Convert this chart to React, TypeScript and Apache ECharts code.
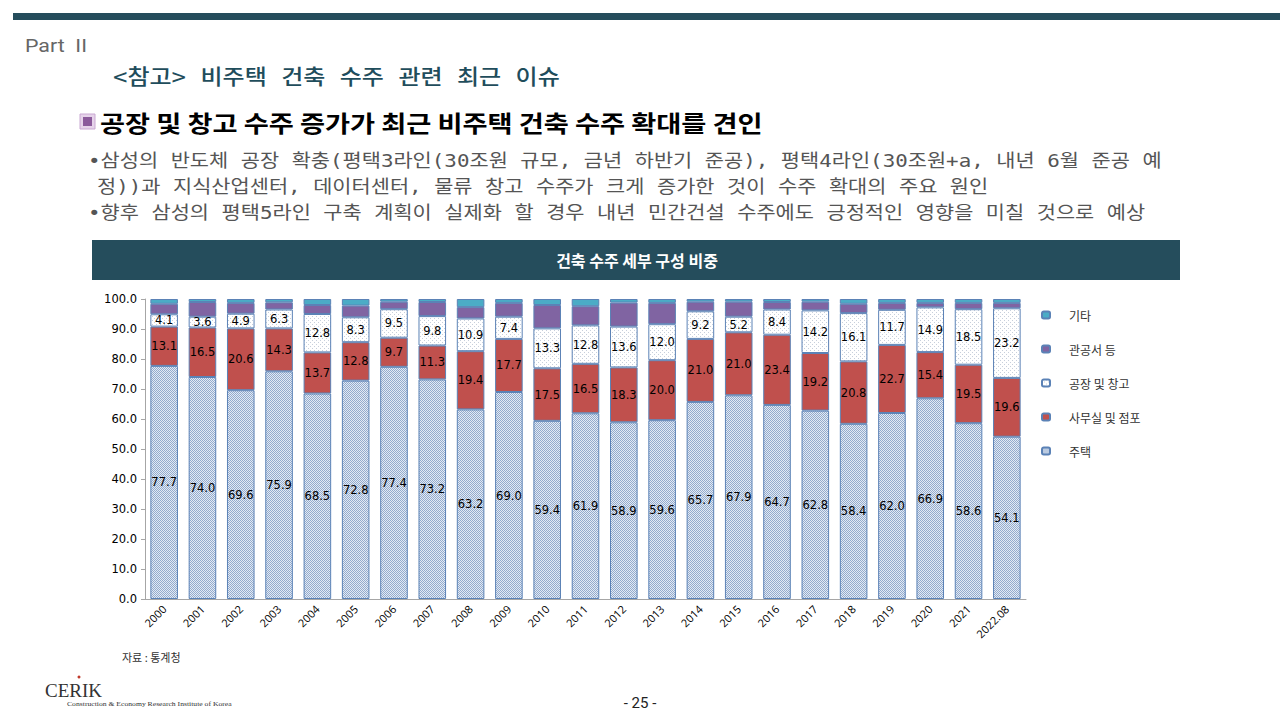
import React, { useEffect, useRef } from "react";
import * as echarts from "echarts";

const categories = ["2000","2001","2002","2003","2004","2005","2006","2007","2008","2009","2010","2011","2012","2013","2014","2015","2016","2017","2018","2019","2020","2021","2022.08"];
const housing = [77.7,74.0,69.6,75.9,68.5,72.8,77.4,73.2,63.2,69.0,59.4,61.9,58.9,59.6,65.7,67.9,64.7,62.8,58.4,62.0,66.9,58.6,54.1];
const office = [13.1,16.5,20.6,14.3,13.7,12.8,9.7,11.3,19.4,17.7,17.5,16.5,18.3,20.0,21.0,21.0,23.4,19.2,20.8,22.7,15.4,19.5,19.6];
const factory = [4.1,3.6,4.9,6.3,12.8,8.3,9.5,9.8,10.9,7.4,13.3,12.8,13.6,12.0,9.2,5.2,8.4,14.2,16.1,11.7,14.9,18.5,23.2];
const publicBldg = [3.5,4.9,3.6,2.4,3.0,3.9,2.5,4.7,3.8,4.6,7.8,6.4,8.0,7.1,3.2,5.0,2.5,2.9,3.1,2.3,1.5,2.1,1.8];
const others = [1.6,1.0,1.3,1.1,2.0,2.2,0.9,1.0,2.7,1.3,2.0,2.4,1.2,1.3,0.9,0.9,1.0,0.9,1.6,1.3,1.3,1.3,1.3];
const seriesNames = ["주택","사무실 및 점포","공장 및 창고","관공서 등","기타"];
const legendOrder = ["기타","관공서 등","공장 및 창고","사무실 및 점포","주택"];

const KR = "'Noto Sans CJK KR', 'Noto Sans', sans-serif";
const MIX = "'DejaVu Sans Mono', 'Noto Sans CJK KR', sans-serif";
const SERIF = "'Liberation Serif', 'DejaVu Serif', serif";
const NARROW = "'Liberation Sans Narrow', 'Roboto', sans-serif";

const partText = "Part  II";
const titleText = "<참고> 비주택 건축 수주 관련 최근 이슈";
const headingText = "공장 및 창고 수주 증가가 최근 비주택 건축 수주 확대를 견인";
const bullet1 = "•삼성의 반도체 공장 확충(평택3라인(30조원 규모, 금년 하반기 준공), 평택4라인(30조원+a, 내년 6월 준공 예";
const bullet2 = "정))과 지식산업센터, 데이터센터, 물류 창고 수주가 크게 증가한 것이 수주 확대의 주요 원인";
const bullet3 = "•향후 삼성의 평택5라인 구축 계획이 실제화 할 경우 내년 민간건설 수주에도 긍정적인 영향을 미칠 것으로 예상";
const chartTitle = "건축 수주 세부 구성 비중";
const sourceText = "자료 : 통계청";
const instituteText = "Construction & Economy Research Institute of Korea";

function makePattern(kind: "dense" | "sparse") {
  const c = document.createElement("canvas");
  c.width = 4;
  c.height = 4;
  const ctx = c.getContext("2d")!;
  ctx.fillStyle = "#ffffff";
  ctx.fillRect(0, 0, 4, 4);
  if (kind === "dense") {
    ctx.fillStyle = "#e3eaf4";
    ctx.fillRect(0, 0, 4, 4);
    ctx.fillStyle = "#93abcd";
    for (let y = 0; y < 4; y++) {
      ctx.fillRect(y % 4, y, 1, 1);
      ctx.fillRect((y + 2) % 4, y, 1, 1);
    }
  } else {
    ctx.fillStyle = "#c7cfdb";
    ctx.fillRect(0, 0, 1, 1);
    ctx.fillRect(2, 2, 1, 1);
  }
  return c;
}

function measure(text: string, font: string) {
  const ctx = document.createElement("canvas").getContext("2d")!;
  ctx.font = font;
  return ctx.measureText(text).width || 1;
}

export default function App() {
  const ref = useRef<HTMLDivElement>(null);
  useEffect(() => {
    if (!ref.current) return;
    const chart = echarts.init(ref.current, null, { renderer: "svg" });
    const dense = makePattern("dense");
    const sparse = makePattern("sparse");
    const border = "#5b82b6";

    const fit = (text: string, font: string, target: number) => {
      const s = target / measure(text, font);
      return Math.max(0.8, Math.min(1.4, s));
    };
    const sPart = fit(partText, `19px ${NARROW}`, 62);
    const sTitle = fit(titleText, `500 21px ${MIX}`, 447);
    const sHead = fit(headingText, `bold 23px ${KR}`, 663);
    const sB1 = fit(bullet1, `18px ${MIX}`, 1058);
    const sB3 = fit(bullet3, `18px ${MIX}`, 1074);
    const sB = (sB1 + sB3) / 2;
    const sInst = fit(instituteText, `7px ${SERIF}`, 165);

    const label = { show: true, position: "inside", color: "#000", fontSize: 11.5, fontFamily: "'DejaVu Sans', sans-serif", formatter: (p: any) => Number(p.value).toFixed(1) };
    const datas = [housing, office, factory, publicBldg, others];
    const styles: any[] = [
      { color: { image: dense, repeat: "repeat" }, borderColor: border, borderWidth: 1 },
      { color: "#c0504d", borderColor: border, borderWidth: 1 },
      { color: { image: sparse, repeat: "repeat" }, borderColor: border, borderWidth: 1 },
      { color: "#8064a2", borderColor: border, borderWidth: 1 },
      { color: "#4bacc6", borderColor: border, borderWidth: 1 },
    ];
    const series = seriesNames.map((name, i) => ({
      name,
      type: "bar",
      stack: "total",
      barWidth: "72%",
      data: datas[i],
      itemStyle: styles[i],
      label: i < 3 ? label : { show: false },
      emphasis: { disabled: true },
    }));
    chart.setOption({
      animation: false,
      backgroundColor: "#ffffff",
      grid: { left: 145, right: 254, top: 299, bottom: 121, containLabel: false },
      legend: {
        orient: "vertical",
        left: 1036,
        top: 304,
        itemWidth: 8,
        itemHeight: 7,
        itemGap: 22,
        data: legendOrder,
        textStyle: { fontFamily: KR, fontSize: 12, color: "#333", padding: [0, 0, 0, 14] },
      },
      xAxis: {
        type: "category",
        data: categories,
        axisLine: { lineStyle: { color: "#a6a6a6" } },
        axisTick: { lineStyle: { color: "#a6a6a6" }, length: 4 },
        axisLabel: { rotate: 45, fontSize: 11, color: "#000", fontFamily: "'Open Sans', 'DejaVu Sans', sans-serif", interval: 0, margin: 8 },
      },
      yAxis: {
        type: "value",
        min: 0,
        max: 100,
        interval: 10,
        splitLine: { show: false },
        axisLine: { show: true, lineStyle: { color: "#a6a6a6" } },
        axisTick: { show: true, lineStyle: { color: "#a6a6a6" }, length: 4 },
        axisLabel: { fontSize: 11.5, color: "#000", fontFamily: "'DejaVu Sans', sans-serif", formatter: (v: number) => v.toFixed(1), margin: 8 },
      },
      series,
      graphic: [
        { type: "rect", shape: { x: 13, y: 13, width: 1267, height: 7 }, style: { fill: "#254d5c" } },
        { type: "text", x: 25, y: 45, scaleX: sPart, style: { text: partText, fontSize: 19, fontFamily: NARROW, fill: "#666", verticalAlign: "middle" } },
        { type: "text", x: 113, y: 77, scaleX: sTitle, style: { text: titleText, fontSize: 21, fontFamily: MIX, fontWeight: 500, fill: "#1f4d5c", verticalAlign: "middle" } },
        { type: "rect", shape: { x: 80, y: 114, width: 15, height: 15 }, style: { fill: "#e6d3ea", stroke: "#c9a8d2", lineWidth: 1 } },
        { type: "rect", shape: { x: 83, y: 117, width: 9, height: 9 }, style: { fill: "#8b5a9b" } },
        { type: "text", x: 100, y: 122, scaleX: sHead, style: { text: headingText, fontSize: 23, fontFamily: KR, fontWeight: "bold", fill: "#000", verticalAlign: "middle" } },
        { type: "text", x: 88, y: 161, scaleX: sB, style: { text: bullet1, fontSize: 18, fontFamily: MIX, fill: "#555", verticalAlign: "middle" } },
        { type: "text", x: 97, y: 187, scaleX: sB, style: { text: bullet2, fontSize: 18, fontFamily: MIX, fill: "#555", verticalAlign: "middle" } },
        { type: "text", x: 88, y: 213, scaleX: sB, style: { text: bullet3, fontSize: 18, fontFamily: MIX, fill: "#555", verticalAlign: "middle" } },
        { type: "rect", shape: { x: 92, y: 240, width: 1088, height: 40 }, style: { fill: "#254d5c" } },
        { type: "text", x: 637, y: 260, style: { text: chartTitle, fontSize: 16, fontFamily: KR, fontWeight: "bold", fill: "#fff", align: "center", verticalAlign: "middle" } },
        { type: "text", x: 122, y: 657, style: { text: sourceText, fontSize: 11, fontFamily: KR, fill: "#333", verticalAlign: "middle" } },
        { type: "text", x: 45, y: 690, style: { text: "CERIK", fontSize: 19, fontFamily: SERIF, fill: "#333", verticalAlign: "middle" } },
        { type: "circle", shape: { cx: 79, cy: 677, r: 1.5 }, style: { fill: "#c0392b" } },
        { type: "text", x: 67, y: 704, scaleX: sInst, style: { text: instituteText, fontSize: 7, fontFamily: SERIF, fill: "#333", verticalAlign: "middle" } },
        { type: "text", x: 640, y: 703, style: { text: "- 25 -", fontSize: 15, fontFamily: NARROW, fill: "#222", align: "center", verticalAlign: "middle" } },
      ],
    });
    return () => chart.dispose();
  }, []);
  return <div ref={ref} style={{ position: "fixed", left: 0, top: 0, width: 1280, height: 720 }} />;
}
